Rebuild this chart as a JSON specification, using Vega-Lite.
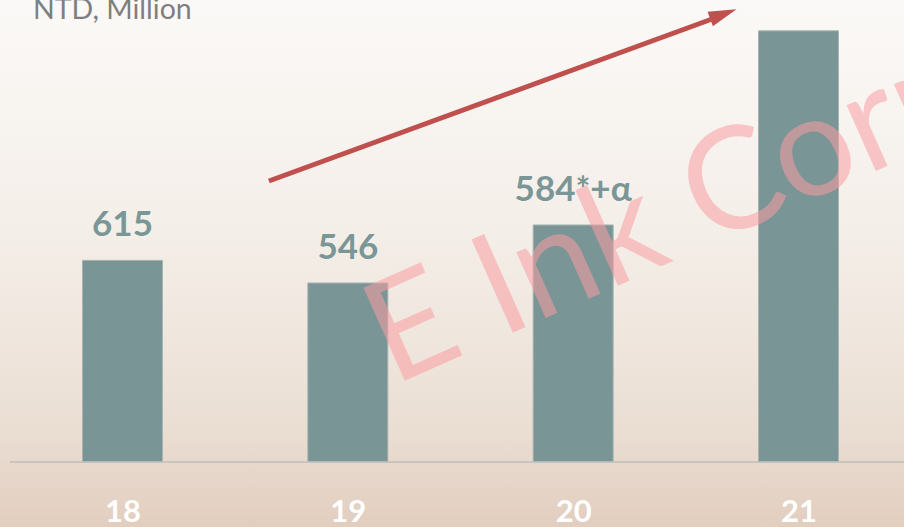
{
  "$schema": "https://vega.github.io/schema/vega-lite/v6.json",
  "width": 904,
  "height": 527,
  "autosize": {"type": "none"},
  "padding": 0,
  "background": "#f3ede7",
  "config": {
    "view": {
      "stroke": null,
      "fill": {
        "gradient": "linear",
        "x1": 0, "y1": 0, "x2": 0, "y2": 1,
        "stops": [
          {"offset": 0, "color": "#fbf9f7"},
          {"offset": 0.45, "color": "#f4eee8"},
          {"offset": 0.8, "color": "#ebdfd4"},
          {"offset": 1, "color": "#e2cebf"}
        ]
      }
    }
  },
  "data": {
    "values": [
      {"year": 18, "revenue": 615, "label": "615"},
      {"year": 19, "revenue": 546, "label": "546"},
      {"year": 20, "revenue": 723, "label": "584*+α"},
      {"year": 21, "revenue": 1315, "label": ""}
    ]
  },
  "layer": [
    {
      "mark": {"type": "bar", "width": 80, "color": "#799595", "stroke": "#a8b4b4", "strokeWidth": 1},
      "encoding": {
        "x": {
          "field": "year", "type": "quantitative",
          "scale": {"domain": [17.4563, 21.4682], "nice": false, "zero": false, "padding": 0},
          "axis": {
            "values": [18, 19, 20, 21], "format": "d", "offset": -65,
            "domain": false, "ticks": false, "grid": false, "title": null,
            "labelFont": "Lato", "labelFontWeight": "bold", "labelFontSize": 31,
            "labelColor": "#ffffff", "labelPadding": 35, "labelFlush": false
          }
        },
        "y": {
          "field": "revenue", "type": "quantitative",
          "scale": {"domain": [-198.25, 1409.1], "nice": false, "zero": false},
          "axis": null
        }
      }
    },
    {
      "mark": {"type": "text", "font": "Lato", "fontWeight": "bold", "fontSize": 35, "color": "#7a9696", "baseline": "alphabetic", "align": "center", "dy": -24},
      "encoding": {
        "x": {"field": "year", "type": "quantitative"},
        "y": {"field": "revenue", "type": "quantitative"},
        "text": {"field": "label"}
      }
    },
    {
      "data": {"values": [{"base": 0}]},
      "mark": {"type": "rule", "color": "#bfbfbf", "strokeWidth": 1.5},
      "encoding": {
        "x": {"datum": 17.5}, "x2": {"datum": 21.4682},
        "y": {"field": "base", "type": "quantitative"}
      }
    },
    {
      "data": {"values": [{"note": "NTD, Million"}]},
      "mark": {"type": "text", "font": "Lato", "fontSize": 28.5, "color": "#7f7f7f", "align": "left", "baseline": "alphabetic"},
      "encoding": {
        "x": {"datum": 17.6027}, "y": {"datum": 1351},
        "text": {"field": "note"}
      }
    },
    {
      "data": {"values": [{"mark": "E Ink Corporation"}]},
      "mark": {"type": "text", "font": "Lato", "fontSize": 142, "color": "#fa9ea3", "opacity": 0.55, "align": "left", "baseline": "alphabetic", "angle": 336},
      "encoding": {
        "x": {"datum": 19.2}, "y": {"datum": 232},
        "text": {"field": "mark"}
      }
    },
    {
      "data": {"values": [{"trend": "up"}]},
      "mark": {"type": "rule", "color": "#c0504d", "strokeWidth": 5, "strokeCap": "butt"},
      "encoding": {
        "x": {"datum": 18.6497}, "y": {"datum": 857},
        "x2": {"datum": 20.6107}, "y2": {"datum": 1349.6}
      }
    },
    {
      "data": {"values": [{"trend": "up"}]},
      "mark": {"type": "point", "shape": "M1,0L-1,-0.55L-1,0.55Z", "size": 784, "angle": 339.8, "filled": true, "opacity": 1, "color": "#c0504d", "strokeWidth": 0},
      "encoding": {
        "x": {"datum": 20.6666}, "y": {"datum": 1366}
      }
    }
  ]
}
